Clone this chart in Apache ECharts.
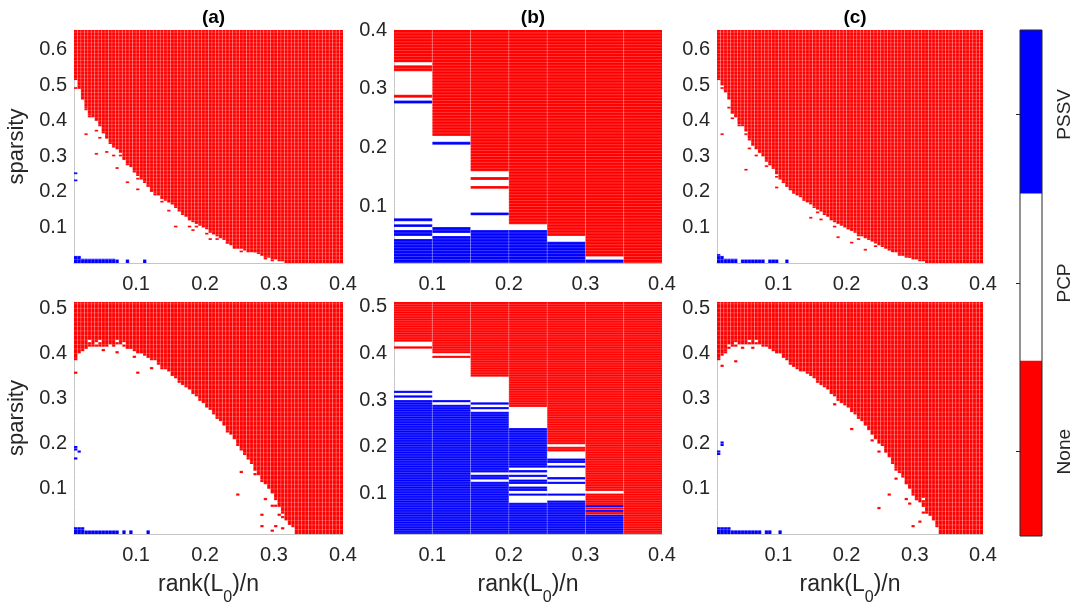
<!DOCTYPE html>
<html>
<head>
<meta charset="utf-8">
<script src="https://cdn.jsdelivr.net/npm/echarts@6/dist/echarts.min.js"></script>
<style>
  html, body { margin: 0; padding: 0; background: #fff; }
  #chart { width: 1080px; height: 611px; }
</style>
</head>
<body>
<div id="chart"></div>
<script>
// outcome of each cell: 0 = None, 1 = PCP, 2 = PSSV
const STATES = ['None', 'PCP', 'PSSV'];
const COLORS = ['#ff0000', '#ffffff', '#0000ff'];

const X_TICKS = [0.1, 0.2, 0.3, 0.4];
const Y_TICKS_TOP = [0.1, 0.2, 0.3, 0.4, 0.5, 0.6];
const Y_TICKS_TOP_B = [0.1, 0.2, 0.3, 0.4];
const Y_TICKS_BOTTOM = [0.1, 0.2, 0.3, 0.4, 0.5];

// fine grid of panels (a) and (c): 78 rank columns from 0.01, 0.005 wide
const FINE_X0 = 0.01;
const FINE_STEP = 0.005;
// coarse grid of panel (b): 7 rank columns from 0.05, 0.05 wide
const COARSE_X0 = 0.05;
const COARSE_STEP = 0.05;

// top of the PCP region in each rank column (sparsity), above it: None
const bndA1 = [0.515, 0.49, 0.46, 0.435, 0.415, 0.41, 0.40, 0.385, 0.365, 0.35,
  0.335, 0.325, 0.32, 0.31, 0.29, 0.275, 0.27, 0.255, 0.245, 0.235,
  0.225, 0.215, 0.2, 0.195, 0.19, 0.18, 0.175, 0.17, 0.165, 0.155,
  0.145, 0.135, 0.13, 0.12, 0.115, 0.11, 0.105, 0.1, 0.095, 0.085,
  0.08, 0.075, 0.07, 0.065, 0.055, 0.05, 0.045, 0.04, 0.04, 0.035,
  0.03, 0.03, 0.03, 0.025, 0.02, 0.015, 0.015, 0.01, 0.01, 0.005,
  0.005, 0, 0, 0, 0, 0, 0, 0, 0, 0, 0, 0, 0, 0, 0, 0, 0, 0];
const bndC1 = [0.515, 0.5, 0.48, 0.46, 0.42, 0.41, 0.39, 0.385, 0.37, 0.345,
  0.33, 0.32, 0.31, 0.3, 0.285, 0.275, 0.265, 0.25, 0.235, 0.225,
  0.215, 0.205, 0.195, 0.19, 0.185, 0.175, 0.17, 0.165, 0.16, 0.15,
  0.145, 0.135, 0.13, 0.12, 0.115, 0.11, 0.105, 0.1, 0.095, 0.09,
  0.085, 0.075, 0.075, 0.07, 0.065, 0.06, 0.055, 0.05, 0.045, 0.04,
  0.035, 0.03, 0.03, 0.025, 0.02, 0.015, 0.015, 0.01, 0.01, 0.005,
  0.005, 0, 0, 0, 0, 0, 0, 0, 0, 0, 0, 0, 0, 0, 0, 0, 0, 0];
const bndA2 = [0.385, 0.40, 0.405, 0.41, 0.415, 0.415, 0.415, 0.415, 0.415, 0.415,
  0.42, 0.415, 0.42, 0.42, 0.415, 0.41, 0.41, 0.405, 0.40, 0.40,
  0.395, 0.39, 0.385, 0.385, 0.375, 0.37, 0.365, 0.36, 0.35, 0.345,
  0.335, 0.33, 0.325, 0.32, 0.31, 0.305, 0.295, 0.29, 0.28, 0.275,
  0.265, 0.255, 0.25, 0.24, 0.225, 0.22, 0.21, 0.195, 0.185, 0.175,
  0.165, 0.155, 0.14, 0.13, 0.12, 0.11, 0.1, 0.09, 0.075, 0.06,
  0.045, 0.03, 0.02, 0.015, 0, 0, 0, 0, 0, 0, 0, 0, 0, 0, 0, 0, 0, 0];
const bndC2 = [0.385, 0.395, 0.405, 0.41, 0.415, 0.415, 0.42, 0.42, 0.42, 0.42,
  0.42, 0.42, 0.42, 0.415, 0.415, 0.41, 0.405, 0.4, 0.4, 0.39,
  0.385, 0.375, 0.37, 0.365, 0.36, 0.36, 0.355, 0.35, 0.345, 0.335,
  0.33, 0.325, 0.32, 0.31, 0.305, 0.295, 0.29, 0.285, 0.28, 0.27,
  0.265, 0.255, 0.25, 0.24, 0.23, 0.22, 0.21, 0.2, 0.195, 0.18,
  0.17, 0.155, 0.145, 0.135, 0.125, 0.11, 0.1, 0.085, 0.075, 0.07,
  0.06, 0.045, 0.04, 0.03, 0.015, 0, 0, 0, 0, 0, 0, 0, 0, 0, 0, 0, 0, 0];

// isolated cells: [column, sparsity, state]
const specksA1 = [[0, 0.49, 0], [3, 0.43, 0], [4, 0.41, 0], [3, 0.36, 0], [6, 0.37, 0], [7, 0.35, 0],
  [9, 0.31, 0], [6, 0.305, 0], [11, 0.3, 0], [12, 0.265, 0], [13, 0.3, 0], [15, 0.225, 0],
  [18, 0.235, 0], [18, 0.205, 0], [21, 0.215, 0], [23, 0.19, 0], [25, 0.17, 0], [27, 0.145, 0],
  [29, 0.1, 0], [33, 0.1, 0], [34, 0.09, 0], [35, 0.1, 0], [37, 0.11, 0], [38, 0.08, 0],
  [39, 0.065, 0], [41, 0.065, 0], [44, 0.055, 0], [46, 0.04, 0], [48, 0.03, 0], [52, 0.03, 0],
  [55, 0.01, 0], [57, 0.005, 0], [0, 0.25, 2], [0, 0.23, 2]];
const specksC1 = [[1, 0.49, 0], [3, 0.435, 0], [4, 0.405, 0], [1, 0.36, 0], [6, 0.385, 0], [6, 0.4, 0],
  [8, 0.36, 0], [8, 0.26, 0], [9, 0.32, 0], [11, 0.3, 0], [12, 0.31, 0], [14, 0.27, 0],
  [17, 0.24, 0], [17, 0.21, 0], [19, 0.225, 0], [20, 0.215, 0], [23, 0.21, 0], [28, 0.155, 0],
  [29, 0.14, 0], [27, 0.125, 0], [30, 0.12, 0], [34, 0.1, 0], [35, 0.07, 0], [38, 0.095, 0],
  [39, 0.055, 0], [41, 0.065, 0], [43, 0.035, 0], [46, 0.045, 0], [50, 0.04, 0], [53, 0.02, 0],
  [56, 0.015, 0], [0, 0.02, 2]];
const specksA2 = [[0, 0.355, 0], [4, 0.425, 1], [6, 0.42, 1], [7, 0.425, 1], [12, 0.425, 1], [14, 0.42, 1],
  [8, 0.405, 0], [12, 0.4, 0], [17, 0.39, 0], [18, 0.355, 0], [22, 0.365, 0], [25, 0.365, 0],
  [49, 0.18, 0], [48, 0.135, 0], [52, 0.13, 0], [54, 0.115, 0], [47, 0.085, 0], [55, 0.075, 0],
  [57, 0.06, 0], [54, 0.04, 0], [58, 0.06, 0], [59, 0.04, 0], [60, 0.035, 0], [54, 0.015, 0],
  [58, 0.015, 0], [60, 0.01, 0], [57, 0.005, 0],
  [0, 0.19, 2], [0, 0.185, 2], [1, 0.18, 2], [0, 0.165, 2]];
const specksC2 = [[1, 0.37, 0], [5, 0.38, 0], [2, 0.4, 0], [7, 0.41, 0], [10, 0.41, 0], [3, 0.415, 1],
  [5, 0.42, 1], [9, 0.425, 1], [11, 0.425, 1], [34, 0.285, 0], [39, 0.23, 0], [45, 0.205, 0],
  [47, 0.18, 0], [52, 0.14, 0], [52, 0.12, 0], [50, 0.085, 0], [47, 0.055, 0], [55, 0.075, 0],
  [56, 0.065, 0], [57, 0.015, 0], [59, 0.025, 0], [60, 0.045, 0], [61, 0.065, 0], [60, 0.075, 1],
  [0, 0.18, 2], [0, 0.175, 2], [1, 0.2, 2], [1, 0.195, 2]];

// PSSV runs along the bottom: [first column, end column, sparsity from, sparsity to]
const blueRunsA1 = [[0, 2, 0, 0.02], [2, 12, 0, 0.012], [12, 13, 0, 0.01], [15, 16, 0, 0.01], [20, 21, 0, 0.01]];
const blueRunsC1 = [[0, 2, 0, 0.02], [2, 6, 0, 0.012], [7, 14, 0, 0.01], [15, 18, 0, 0.01], [20, 21, 0, 0.01]];
const blueRunsA2 = [[0, 3, 0, 0.015], [3, 13, 0, 0.008], [14, 15, 0, 0.008], [16, 17, 0, 0.008], [21, 22, 0, 0.008]];
const blueRunsC2 = [[0, 4, 0, 0.015], [4, 13, 0, 0.008], [14, 16, 0, 0.008], [18, 19, 0, 0.008]];

// panel (b): per rank column, stacked [sparsity from, sparsity to, state]
const colsB1 = [
  [[0, 0.045, 2], [0.045, 0.05, 1], [0.05, 0.06, 2], [0.06, 0.065, 1], [0.065, 0.07, 2], [0.07, 0.075, 1],
   [0.075, 0.08, 2], [0.08, 0.275, 1], [0.275, 0.28, 2], [0.28, 0.285, 1], [0.285, 0.29, 0], [0.29, 0.33, 1],
   [0.33, 0.34, 0], [0.34, 0.345, 1], [0.345, 0.4, 0]],
  [[0, 0.05, 2], [0.05, 0.055, 1], [0.055, 0.065, 2], [0.065, 0.205, 1], [0.205, 0.21, 2], [0.21, 0.22, 1], [0.22, 0.4, 0]],
  [[0, 0.06, 2], [0.06, 0.085, 1], [0.085, 0.09, 2], [0.09, 0.13, 1], [0.13, 0.135, 0], [0.135, 0.145, 1],
   [0.145, 0.15, 0], [0.15, 0.16, 1], [0.16, 0.4, 0]],
  [[0, 0.06, 2], [0.06, 0.07, 1], [0.07, 0.4, 0]],
  [[0, 0.04, 2], [0.04, 0.05, 1], [0.05, 0.4, 0]],
  [[0, 0.01, 2], [0.01, 0.015, 1], [0.015, 0.4, 0]],
  [[0, 0.4, 0]]
];
const colsB2 = [
  [[0, 0.3, 2], [0.3, 0.305, 1], [0.305, 0.31, 2], [0.31, 0.315, 1], [0.315, 0.32, 2], [0.32, 0.41, 1],
   [0.41, 0.415, 0], [0.415, 0.425, 1], [0.425, 0.515, 0]],
  [[0, 0.29, 2], [0.29, 0.295, 1], [0.295, 0.3, 2], [0.3, 0.39, 1], [0.39, 0.395, 0], [0.395, 0.4, 1], [0.4, 0.515, 0]],
  [[0, 0.125, 2], [0.125, 0.13, 1], [0.13, 0.14, 2], [0.14, 0.145, 1], [0.145, 0.275, 2], [0.275, 0.28, 1],
   [0.28, 0.285, 2], [0.285, 0.29, 1], [0.29, 0.295, 2], [0.295, 0.35, 1], [0.35, 0.515, 0]],
  [[0, 0.08, 2], [0.08, 0.095, 1], [0.095, 0.1, 2], [0.1, 0.105, 1], [0.105, 0.115, 2], [0.115, 0.12, 1],
   [0.12, 0.13, 2], [0.13, 0.135, 1], [0.135, 0.14, 2], [0.14, 0.145, 1], [0.145, 0.15, 2], [0.15, 0.155, 1],
   [0.155, 0.24, 2], [0.24, 0.285, 1], [0.285, 0.515, 0]],
  [[0, 0.085, 2], [0.085, 0.095, 1], [0.095, 0.1, 2], [0.1, 0.12, 1], [0.12, 0.125, 2], [0.125, 0.13, 1],
   [0.13, 0.135, 2], [0.135, 0.155, 1], [0.155, 0.16, 2], [0.16, 0.165, 1], [0.165, 0.175, 2], [0.175, 0.19, 1],
   [0.19, 0.2, 0], [0.2, 0.205, 1], [0.205, 0.515, 0]],
  [[0, 0.055, 2], [0.055, 0.06, 0], [0.06, 0.065, 2], [0.065, 0.07, 0], [0.07, 0.075, 2], [0.075, 0.1, 0],
   [0.1, 0.105, 1], [0.105, 0.515, 0]],
  [[0, 0.515, 0]]
];

// colour bar bands: edges on a 0..3 scale, one state per band
const cbEdges = [0, 1.04, 2.03, 3];
const cbStates = [0, 1, 2];
const cbTicks = [0.5, 1.5, 2.5];

const FONT = "'Liberation Sans', Arial, Helvetica, sans-serif";
const TEXT = '#262626';

// cells: [x0, x1, y0, y1, state, drawnOverOthers]
function fineCells(bnd, specks, runs, ymax) {
  const cells = [];
  bnd.forEach((b, k) => {
    const x0 = FINE_X0 + k * FINE_STEP, x1 = x0 + FINE_STEP;
    if (b > 0) cells.push([x0, x1, 0, b, 1, 0]);
    cells.push([x0, x1, b, ymax, 0, 0]);
  });
  runs.forEach(r => cells.push([FINE_X0 + r[0] * FINE_STEP, FINE_X0 + r[1] * FINE_STEP, r[2], r[3], 2, 1]));
  specks.forEach(s => cells.push([FINE_X0 + s[0] * FINE_STEP, FINE_X0 + (s[0] + 1) * FINE_STEP, s[1], s[1] + FINE_STEP, s[2], 1]));
  return cells;
}
function coarseCells(cols) {
  const cells = [];
  cols.forEach((segs, c) => {
    const x0 = COARSE_X0 + c * COARSE_STEP;
    segs.forEach(s => cells.push([x0, x0 + COARSE_STEP, s[0], s[1], s[2], 0]));
  });
  return cells;
}
// faint lines of the rendered image grid
function textureLines(xEdges, yEdges, xr, yr) {
  const lines = [];
  xEdges.forEach(x => lines.push([x, yr[0], x, yr[1]]));
  yEdges.forEach(y => lines.push([xr[0], y, xr[1], y]));
  return lines;
}
function edges(from, to, step) {
  const out = [];
  for (let i = 1; from + i * step < to - 1e-9; i++) out.push(+(from + i * step).toFixed(4));
  return out;
}

const panels = [
  { title: '(a)', box: [74, 30, 269, 233], x: [0.01, 0.4], y: [0, 0.656], yTicks: Y_TICKS_TOP, yName: true,
    cells: fineCells(bndA1, specksA1, blueRunsA1, 0.656), fine: true, rowStep: 0.01 },
  { title: '(b)', box: [394, 30, 268, 233], x: [0.05, 0.4], y: [0.004, 0.4], yTicks: Y_TICKS_TOP_B,
    cells: coarseCells(colsB1), fine: false, rowStep: 0.005 },
  { title: '(c)', box: [717, 30, 266, 233], x: [0.01, 0.4], y: [0, 0.656], yTicks: Y_TICKS_TOP,
    cells: fineCells(bndC1, specksC1, blueRunsC1, 0.656), fine: true, rowStep: 0.01 },
  { box: [74, 302, 269, 232], x: [0.01, 0.4], y: [0, 0.514], yTicks: Y_TICKS_BOTTOM, yName: true, xName: true,
    cells: fineCells(bndA2, specksA2, blueRunsA2, 0.514), fine: true, rowStep: 0.01 },
  { box: [394, 302, 268, 232], x: [0.05, 0.4], y: [0.013, 0.51], yTicks: Y_TICKS_BOTTOM, xName: true,
    cells: coarseCells(colsB2), fine: false, rowStep: 0.005 },
  { box: [717, 302, 266, 232], x: [0.01, 0.4], y: [0, 0.514], yTicks: Y_TICKS_BOTTOM, xName: true,
    cells: fineCells(bndC2, specksC2, blueRunsC2, 0.514), fine: true, rowStep: 0.01 }
];

function renderCell(params, api) {
  const state = api.value(4);
  const lo = api.coord([api.value(0), api.value(2)]);
  const hi = api.coord([api.value(1), api.value(3)]);
  const fill = (state === 1 && !api.value(5)) ? 'transparent' : COLORS[state];
  return {
    type: 'rect',
    shape: { x: lo[0], y: hi[1], width: hi[0] - lo[0], height: lo[1] - hi[1] },
    style: { fill: fill },
    silent: true
  };
}
function renderLine(params, api) {
  const a = api.coord([api.value(0), api.value(1)]);
  const b = api.coord([api.value(2), api.value(3)]);
  return {
    type: 'line',
    shape: { x1: a[0], y1: a[1], x2: b[0], y2: b[1] },
    style: { stroke: 'rgba(255,255,255,0.28)', lineWidth: 0.8 },
    silent: true
  };
}

const grids = [], xAxes = [], yAxes = [], series = [], titles = [];
panels.forEach((p, i) => {
  grids.push({ left: p.box[0], top: p.box[1], width: p.box[2], height: p.box[3], outerBoundsMode: 'none' });
  xAxes.push({
    gridIndex: i, type: 'value', min: p.x[0], max: p.x[1],
    axisLine: { show: true, onZero: false, lineStyle: { color: '#c4c4c4', width: 1 } },
    axisTick: { show: false }, splitLine: { show: false },
    axisLabel: { customValues: X_TICKS, formatter: v => v.toFixed(1), fontSize: 20, color: TEXT, margin: 11, fontFamily: FONT },
    name: p.xName ? '{m|rank(L}{s|0}{m|)/n}' : '',
    nameLocation: 'middle', nameGap: 39,
    nameTextStyle: {
      color: TEXT, fontFamily: FONT,
      rich: {
        m: { fontSize: 23, lineHeight: 26, verticalAlign: 'top', color: TEXT, fontFamily: FONT },
        s: { fontSize: 16, lineHeight: 33, verticalAlign: 'bottom', color: TEXT, fontFamily: FONT }
      }
    }
  });
  yAxes.push({
    gridIndex: i, type: 'value', min: p.y[0], max: p.y[1],
    axisLine: { show: true, onZero: false, lineStyle: { color: '#c4c4c4', width: 1 } },
    axisTick: { show: false }, splitLine: { show: false },
    axisLabel: { customValues: p.yTicks, formatter: v => v.toFixed(1), fontSize: 20, color: TEXT, margin: 7, fontFamily: FONT },
    name: p.yName ? 'sparsity' : '',
    nameLocation: 'middle', nameGap: 46, nameRotate: 90,
    nameTextStyle: { fontSize: 22, color: TEXT, fontFamily: FONT }
  });
  series.push({
    type: 'custom', xAxisIndex: i, yAxisIndex: i, renderItem: renderCell,
    data: p.cells, encode: { x: [0, 1], y: [2, 3] }, clip: true, animation: false, z: 2
  });
  const xEdges = p.fine ? edges(p.x[0], p.x[1], FINE_STEP) : edges(COARSE_X0, p.x[1], COARSE_STEP);
  series.push({
    type: 'custom', xAxisIndex: i, yAxisIndex: i, renderItem: renderLine,
    data: textureLines(xEdges, edges(0, p.y[1], p.rowStep), p.x, p.y),
    clip: true, animation: false, z: 3
  });
  if (p.title) {
    titles.push({
      text: p.title, left: p.box[0] + p.box[2] / 2, top: 3, textAlign: 'center',
      textStyle: { fontSize: 19, fontWeight: 'bold', color: '#000', fontFamily: FONT }
    });
  }
});

// colour bar
const cb = panels.length;
grids.push({ left: 1020, top: 30, width: 22, height: 506, show: true, z: 10,
  borderColor: '#262626', borderWidth: 1, backgroundColor: 'transparent', outerBoundsMode: 'none' });
xAxes.push({ gridIndex: cb, type: 'value', min: 0, max: 1, show: false });
yAxes.push({
  gridIndex: cb, type: 'value', min: 0, max: 3, position: 'right', z: 10,
  axisLine: { show: false }, splitLine: { show: false },
  axisTick: { show: true, inside: true, length: 4, customValues: cbTicks, lineStyle: { color: TEXT } },
  axisLabel: { customValues: cbTicks, formatter: v => STATES[Math.floor(v)], rotate: 90, margin: 13,
    fontSize: 19, color: TEXT, fontFamily: FONT }
});
series.push({
  type: 'custom', xAxisIndex: cb, yAxisIndex: cb, renderItem: renderCell, animation: false,
  data: cbStates.map((s, i) => [0, 1, cbEdges[i], cbEdges[i + 1], s, 1])
});

const chart = echarts.init(document.getElementById('chart'), null, { renderer: 'canvas' });
chart.setOption({
  animation: false,
  backgroundColor: '#fff',
  title: titles,
  grid: grids,
  xAxis: xAxes,
  yAxis: yAxes,
  series: series
});
window.addEventListener('resize', () => chart.resize());
</script>
</body>
</html>
